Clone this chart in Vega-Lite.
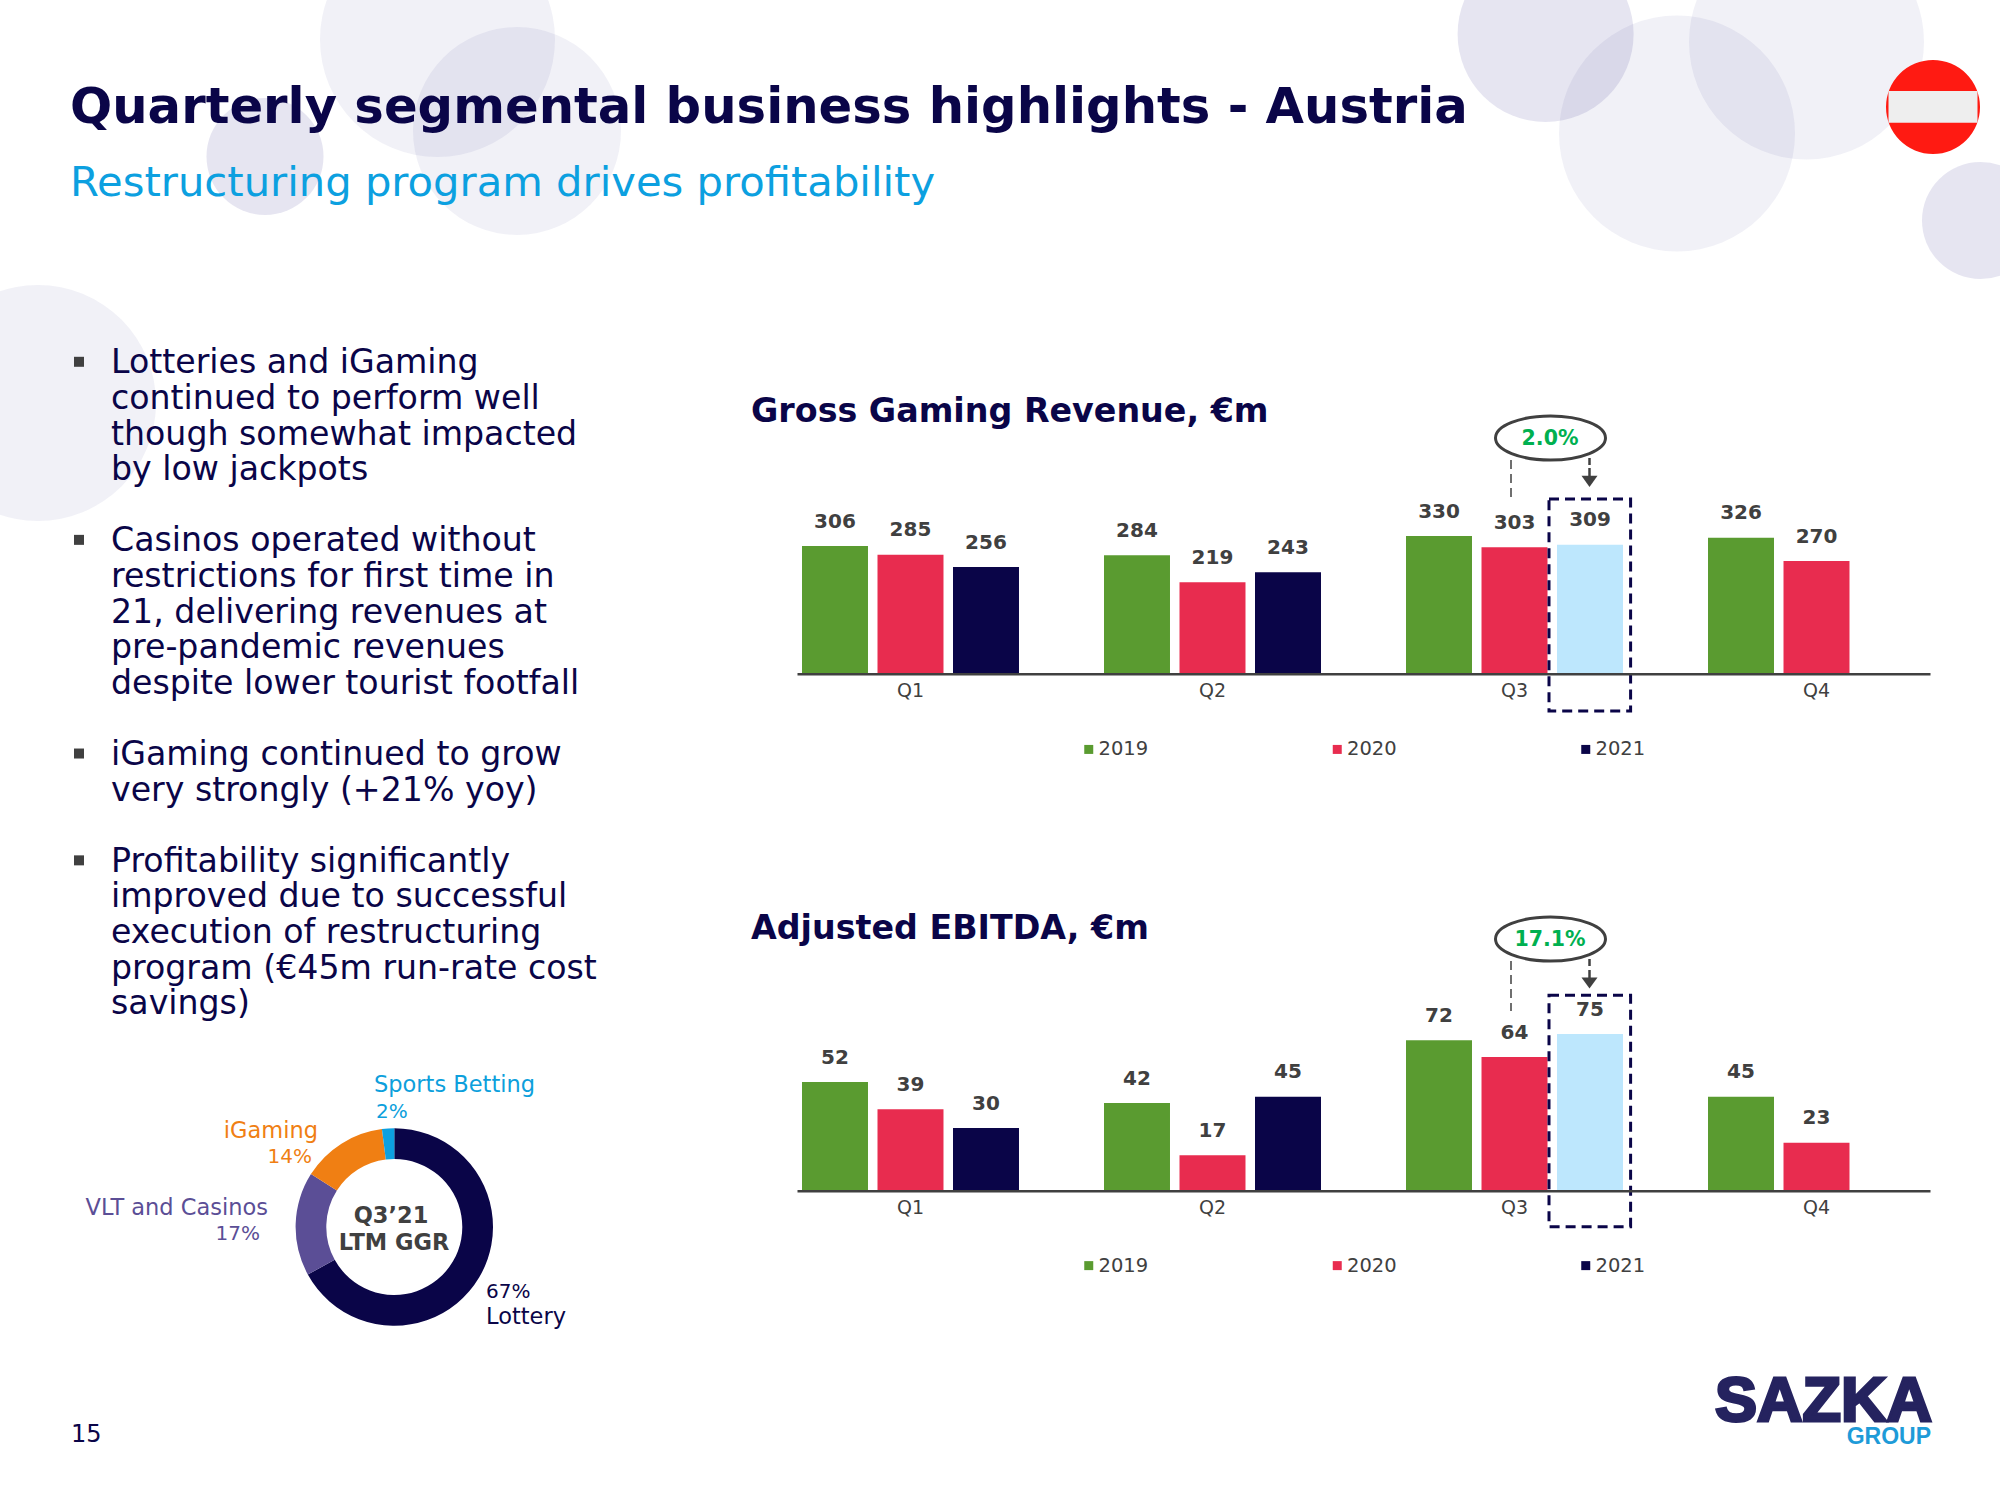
{
"$schema":"https://vega.github.io/schema/vega-lite/v6.json",
"width":2000,"height":1500,"autosize":{"type":"none"},"padding":0,"background":"white",
"config":{"view":{"stroke":null},"axis":{"disable":true,"grid":false},"legend":{"disable":true},"font":"DejaVu Sans"},
"data":{"values":[{"id":1}]},
"resolve":{"scale":{"x":"independent","y":"independent","color":"independent","theta":"independent","xOffset":"independent"},"axis":{"x":"independent","y":"independent"},"legend":{"color":"independent"}},
"layer":[
{"layer":[
{"mark":{"type":"circle","size":30976,"color":"#302A8C","opacity":0.12},"encoding":{"x":{"datum":1545.6,"scale":{"domain":[0,2000],"range":[0,2000],"nice":false}},"y":{"datum":34,"scale":{"domain":[0,1500],"range":[0,1500],"nice":false}}}},
{"mark":{"type":"circle","size":55696,"color":"#302A8C","opacity":0.065},"encoding":{"x":{"datum":1677},"y":{"datum":133.5}}},
{"mark":{"type":"circle","size":55225,"color":"#302A8C","opacity":0.065},"encoding":{"x":{"datum":1806.5},"y":{"datum":42}}},
{"mark":{"type":"circle","size":13689,"color":"#302A8C","opacity":0.12},"encoding":{"x":{"datum":1980.5},"y":{"datum":220.5}}},
{"mark":{"type":"circle","size":55225,"color":"#302A8C","opacity":0.065},"encoding":{"x":{"datum":437.5},"y":{"datum":39.5}}},
{"mark":{"type":"circle","size":43264,"color":"#302A8C","opacity":0.065},"encoding":{"x":{"datum":517},"y":{"datum":131}}},
{"mark":{"type":"circle","size":13689,"color":"#302A8C","opacity":0.12},"encoding":{"x":{"datum":265},"y":{"datum":156.5}}},
{"mark":{"type":"circle","size":55696,"color":"#302A8C","opacity":0.065},"encoding":{"x":{"datum":38},"y":{"datum":403}}},
{"mark":{"type":"circle","size":8836,"color":"#FF1A12","opacity":1},"encoding":{"x":{"datum":1933},"y":{"datum":107}}},
{"mark":{"type":"rect","color":"#EEEEEE"},"encoding":{"x":{"datum":1888.5},"x2":{"datum":1977.5},"y":{"datum":91},"y2":{"datum":122.7}}},
{"data":{"values":[{"label":"Quarterly segmental business highlights - Austria"}]},"mark":{"type":"text","align":"left","baseline":"middle","fontSize":49.7,"fontWeight":"bold","color":"#0A0548"},"encoding":{"x":{"datum":70},"y":{"datum":107.5},"text":{"field":"label"}}},
{"data":{"values":[{"label":"Restructuring program drives profitability"}]},"mark":{"type":"text","align":"left","baseline":"middle","fontSize":41.7,"color":"#0CA0E0"},"encoding":{"x":{"datum":70},"y":{"datum":182.5},"text":{"field":"label"}}},
{"data":{"values":[{"label":"Gross Gaming Revenue, €m"}]},"mark":{"type":"text","align":"left","baseline":"middle","fontSize":33.3,"fontWeight":"bold","color":"#0A0548"},"encoding":{"x":{"datum":751},"y":{"datum":411.5},"text":{"field":"label"}}},
{"data":{"values":[{"label":"Adjusted EBITDA, €m"}]},"mark":{"type":"text","align":"left","baseline":"middle","fontSize":33.3,"fontWeight":"bold","color":"#0A0548"},"encoding":{"x":{"datum":751},"y":{"datum":928.5},"text":{"field":"label"}}},
{"data":{"values":[{"label":"15"}]},"mark":{"type":"text","align":"left","baseline":"middle","fontSize":24,"color":"#0A0548"},"encoding":{"x":{"datum":71},"y":{"datum":1434.5},"text":{"field":"label"}}},
{"data":{"values":[{"label":"SAZKA"}]},"mark":{"type":"text","align":"left","baseline":"alphabetic","font":"Liberation Sans","fontSize":63,"fontWeight":"bold","color":"#25235F","stroke":"#25235F","strokeWidth":3},"encoding":{"x":{"datum":1715},"y":{"datum":1421},"text":{"field":"label"}}},
{"data":{"values":[{"label":"GROUP"}]},"mark":{"type":"text","align":"right","baseline":"middle","font":"Liberation Sans","fontSize":23,"fontWeight":"bold","color":"#1E9BD8"},"encoding":{"x":{"datum":1931},"y":{"datum":1437},"text":{"field":"label"}}},
{"data":{"values":[{"label":"Sports Betting"}]},"mark":{"type":"text","align":"left","baseline":"middle","fontSize":22.5,"color":"#0D9FDC"},"encoding":{"x":{"datum":374},"y":{"datum":1085},"text":{"field":"label"}}},
{"data":{"values":[{"label":"2%"}]},"mark":{"type":"text","align":"left","baseline":"middle","fontSize":20,"color":"#0D9FDC"},"encoding":{"x":{"datum":376},"y":{"datum":1112},"text":{"field":"label"}}},
{"data":{"values":[{"label":"iGaming"}]},"mark":{"type":"text","align":"right","baseline":"middle","fontSize":22.5,"color":"#F07F13"},"encoding":{"x":{"datum":318},"y":{"datum":1131},"text":{"field":"label"}}},
{"data":{"values":[{"label":"14%"}]},"mark":{"type":"text","align":"right","baseline":"middle","fontSize":20,"color":"#F07F13"},"encoding":{"x":{"datum":312},"y":{"datum":1157},"text":{"field":"label"}}},
{"data":{"values":[{"label":"VLT and Casinos"}]},"mark":{"type":"text","align":"right","baseline":"middle","fontSize":22.5,"color":"#5B4E96"},"encoding":{"x":{"datum":268},"y":{"datum":1208},"text":{"field":"label"}}},
{"data":{"values":[{"label":"17%"}]},"mark":{"type":"text","align":"right","baseline":"middle","fontSize":20,"color":"#5B4E96"},"encoding":{"x":{"datum":260},"y":{"datum":1234},"text":{"field":"label"}}},
{"data":{"values":[{"label":"67%"}]},"mark":{"type":"text","align":"left","baseline":"middle","fontSize":20,"color":"#0A0548"},"encoding":{"x":{"datum":486},"y":{"datum":1292},"text":{"field":"label"}}},
{"data":{"values":[{"label":"Lottery"}]},"mark":{"type":"text","align":"left","baseline":"middle","fontSize":22.5,"color":"#0A0548"},"encoding":{"x":{"datum":486},"y":{"datum":1317},"text":{"field":"label"}}}
]},
{"data":{"values":[
{"line":0,"first":true,"label":"Lotteries and iGaming"},{"line":1,"label":"continued to perform well"},{"line":2,"label":"though somewhat impacted"},{"line":3,"label":"by low jackpots"},
{"line":5,"first":true,"label":"Casinos operated without"},{"line":6,"label":"restrictions for first time in"},{"line":7,"label":"21, delivering revenues at"},{"line":8,"label":"pre-pandemic revenues"},{"line":9,"label":"despite lower tourist footfall"},
{"line":11,"first":true,"label":"iGaming continued to grow"},{"line":12,"label":"very strongly (+21% yoy)"},
{"line":14,"first":true,"label":"Profitability significantly"},{"line":15,"label":"improved due to successful"},{"line":16,"label":"execution of restructuring"},{"line":17,"label":"program (€45m run-rate cost"},{"line":18,"label":"savings)"}
]},
"encoding":{"y":{"field":"line","type":"quantitative","scale":{"domain":[0,18],"range":[363.3,1004.3],"nice":false,"zero":false}}},
"layer":[
{"mark":{"type":"text","align":"left","baseline":"middle","fontSize":33.2,"color":"#0A0548"},"encoding":{"x":{"datum":111,"scale":{"domain":[0,2000],"range":[0,2000],"nice":false}},"text":{"field":"label"}}},
{"transform":[{"filter":"datum.first"}],"mark":{"type":"square","size":100,"color":"#404040","opacity":1,"yOffset":-1.5},"encoding":{"x":{"datum":79}}}
]},
{"data":{"values":[{"segment":"Lottery","share":67,"rank":1},{"segment":"VLT and Casinos","share":17,"rank":2},{"segment":"iGaming","share":14,"rank":3},{"segment":"Sports Betting","share":2,"rank":4}]},
"transform":[{"stack":"share","sort":[{"field":"rank"}],"as":["t0","t1"]}],
"mark":{"type":"arc","radius":98.7,"radius2":68},
"encoding":{"theta":{"field":"t0","type":"quantitative","scale":{"domain":[0,100],"range":[0,6.28319]}},"theta2":{"field":"t1"},
"color":{"field":"segment","type":"nominal","scale":{"domain":["Lottery","VLT and Casinos","iGaming","Sports Betting"],"range":["#0A0548","#5B4E96","#F07F13","#0CA0E0"]}},
"x":{"datum":394.3,"scale":{"domain":[0,2000],"range":[0,2000],"nice":false}},"y":{"datum":1227,"scale":{"domain":[0,1500],"range":[0,1500],"nice":false}}}},
{"data":{"values":[
{"quarter":"Q1","year":"2019","value":306},{"quarter":"Q1","year":"2020","value":285},{"quarter":"Q1","year":"2021","value":256},
{"quarter":"Q2","year":"2019","value":284},{"quarter":"Q2","year":"2020","value":219},{"quarter":"Q2","year":"2021","value":243},
{"quarter":"Q3","year":"2019","value":330},{"quarter":"Q3","year":"2020","value":303},{"quarter":"Q3","year":"2021","value":309},
{"quarter":"Q4","year":"2019","value":326},{"quarter":"Q4","year":"2020","value":270}]},
"encoding":{
"x":{"field":"quarter","type":"nominal","title":null,"scale":{"domain":["Q1","Q2","Q3","Q4"],"range":[797,1930],"paddingInner":0.2815,"paddingOuter":0.01656},"axis":{"disable":false,"orient":"bottom","offset":-826.3,"ticks":false,"domainWidth":2.5,"domainColor":"#404040","labelColor":"#404040","labelFontSize":19,"labelFont":"DejaVu Sans","labelAngle":0,"labelPadding":8,"zindex":1}},
"xOffset":{"field":"year","type":"nominal","scale":{"domain":["2019","2020","2021"],"paddingInner":0.126,"paddingOuter":0}},
"y":{"field":"value","type":"quantitative","title":null,"scale":{"domain":[0,400],"range":[673.7,506.8],"nice":false}}},
"layer":[
{"mark":{"type":"bar"},"encoding":{"color":{"condition":{"test":"datum.quarter==='Q3'&&datum.year==='2021'","value":"#BDE7FD"},"field":"year","type":"nominal","scale":{"domain":["2019","2020","2021"],"range":["#5A9B30","#E82C4F","#0A0548"]},"legend":{"disable":false,"title":null,"orient":"none","legendX":1079,"legendY":739.3,"direction":"horizontal","columns":3,"symbolType":"square","symbolSize":81,"symbolStrokeWidth":0,"labelFontSize":19.5,"labelColor":"#404040","labelFont":"DejaVu Sans","labelOffset":0,"columnPadding":178.5}}}},
{"mark":{"type":"text","baseline":"middle","dy":-24.3,"fontSize":20,"fontWeight":"bold","color":"#404040"},"encoding":{"text":{"field":"value","type":"quantitative"}}}
]},
{"data":{"values":[
{"quarter":"Q1","year":"2019","value":52},{"quarter":"Q1","year":"2020","value":39},{"quarter":"Q1","year":"2021","value":30},
{"quarter":"Q2","year":"2019","value":42},{"quarter":"Q2","year":"2020","value":17},{"quarter":"Q2","year":"2021","value":45},
{"quarter":"Q3","year":"2019","value":72},{"quarter":"Q3","year":"2020","value":64},{"quarter":"Q3","year":"2021","value":75},
{"quarter":"Q4","year":"2019","value":45},{"quarter":"Q4","year":"2020","value":23}]},
"encoding":{
"x":{"field":"quarter","type":"nominal","title":null,"scale":{"domain":["Q1","Q2","Q3","Q4"],"range":[797,1930],"paddingInner":0.2815,"paddingOuter":0.01656},"axis":{"disable":false,"orient":"bottom","offset":-309.3,"ticks":false,"domainWidth":2.5,"domainColor":"#404040","labelColor":"#404040","labelFontSize":19,"labelFont":"DejaVu Sans","labelAngle":0,"labelPadding":8,"zindex":1}},
"xOffset":{"field":"year","type":"nominal","scale":{"domain":["2019","2020","2021"],"paddingInner":0.126,"paddingOuter":0}},
"y":{"field":"value","type":"quantitative","title":null,"scale":{"domain":[0,100],"range":[1190.7,981.7],"nice":false}}},
"layer":[
{"mark":{"type":"bar"},"encoding":{"color":{"condition":{"test":"datum.quarter==='Q3'&&datum.year==='2021'","value":"#BDE7FD"},"field":"year","type":"nominal","scale":{"domain":["2019","2020","2021"],"range":["#5A9B30","#E82C4F","#0A0548"]},"legend":{"disable":false,"title":null,"orient":"none","legendX":1079,"legendY":1255.5,"direction":"horizontal","columns":3,"symbolType":"square","symbolSize":81,"symbolStrokeWidth":0,"labelFontSize":19.5,"labelColor":"#404040","labelFont":"DejaVu Sans","labelOffset":0,"columnPadding":178.5}}}},
{"mark":{"type":"text","baseline":"middle","dy":-24.3,"fontSize":20,"fontWeight":"bold","color":"#404040"},"encoding":{"text":{"field":"value","type":"quantitative"}}}
]},
{"layer":[
{"mark":{"type":"rect","fill":"transparent","stroke":"#0A0548","strokeWidth":3,"strokeDash":[10,6]},"encoding":{"x":{"datum":1549,"scale":{"domain":[0,2000],"range":[0,2000],"nice":false}},"x2":{"datum":1630.6},"y":{"datum":499,"scale":{"domain":[0,1500],"range":[0,1500],"nice":false}},"y2":{"datum":711}}},
{"mark":{"type":"rect","fill":"transparent","stroke":"#0A0548","strokeWidth":3,"strokeDash":[10,6]},"encoding":{"x":{"datum":1549},"x2":{"datum":1630.6},"y":{"datum":995.3},"y2":{"datum":1226.7}}},
{"mark":{"type":"rule","color":"#404040","strokeWidth":1.5,"strokeDash":[9,5]},"encoding":{"x":{"datum":1511},"y":{"datum":460},"y2":{"datum":502}}},
{"mark":{"type":"rule","color":"#404040","strokeWidth":1.5,"strokeDash":[9,5]},"encoding":{"x":{"datum":1511},"y":{"datum":961},"y2":{"datum":1011}}},
{"mark":{"type":"rule","color":"#404040","strokeWidth":2.5},"encoding":{"x":{"datum":1589.5},"y":{"datum":468},"y2":{"datum":482}}},
{"mark":{"type":"rule","color":"#404040","strokeWidth":2.5},"encoding":{"x":{"datum":1589.5},"y":{"datum":970},"y2":{"datum":984}}},
{"mark":{"type":"rule","color":"#404040","strokeWidth":2.5},"encoding":{"x":{"datum":1589.5},"y":{"datum":458},"y2":{"datum":465}}},
{"mark":{"type":"rule","color":"#404040","strokeWidth":2.5},"encoding":{"x":{"datum":1589.5},"y":{"datum":959},"y2":{"datum":966}}},
{"mark":{"type":"point","filled":true,"opacity":1,"color":"#404040","shape":"M -1 -0.7 L 1 -0.7 L 0 0.7 Z","size":256},"encoding":{"x":{"datum":1589.5},"y":{"datum":481.4}}},
{"mark":{"type":"point","filled":true,"opacity":1,"color":"#404040","shape":"M -1 -0.7 L 1 -0.7 L 0 0.7 Z","size":256},"encoding":{"x":{"datum":1589.5},"y":{"datum":983}}},
{"mark":{"type":"point","filled":true,"opacity":1,"fill":"white","stroke":"#404040","strokeWidth":3,"shape":"M -1 0 A 1 0.4 0 1 1 1 0 A 1 0.4 0 1 1 -1 0 Z","size":12100},"encoding":{"x":{"datum":1550.5},"y":{"datum":438}}},
{"mark":{"type":"point","filled":true,"opacity":1,"fill":"white","stroke":"#404040","strokeWidth":3,"shape":"M -1 0 A 1 0.4 0 1 1 1 0 A 1 0.4 0 1 1 -1 0 Z","size":12100},"encoding":{"x":{"datum":1550.5},"y":{"datum":939}}},
{"data":{"values":[{"label":"2.0%"}]},"mark":{"type":"text","baseline":"middle","fontSize":20.5,"fontWeight":"bold","color":"#00B050"},"encoding":{"x":{"datum":1550},"y":{"datum":439},"text":{"field":"label"}}},
{"data":{"values":[{"label":"17.1%"}]},"mark":{"type":"text","baseline":"middle","fontSize":20.5,"fontWeight":"bold","color":"#00B050"},"encoding":{"x":{"datum":1550},"y":{"datum":940},"text":{"field":"label"}}},
{"data":{"values":[{"label":"Q3’21"}]},"mark":{"type":"text","align":"center","baseline":"middle","fontSize":22.5,"fontWeight":"bold","color":"#404040"},"encoding":{"x":{"datum":391},"y":{"datum":1216},"text":{"field":"label"}}},
{"data":{"values":[{"label":"LTM GGR"}]},"mark":{"type":"text","align":"center","baseline":"middle","fontSize":22.5,"fontWeight":"bold","color":"#404040"},"encoding":{"x":{"datum":394},"y":{"datum":1243},"text":{"field":"label"}}}
]}
]}
